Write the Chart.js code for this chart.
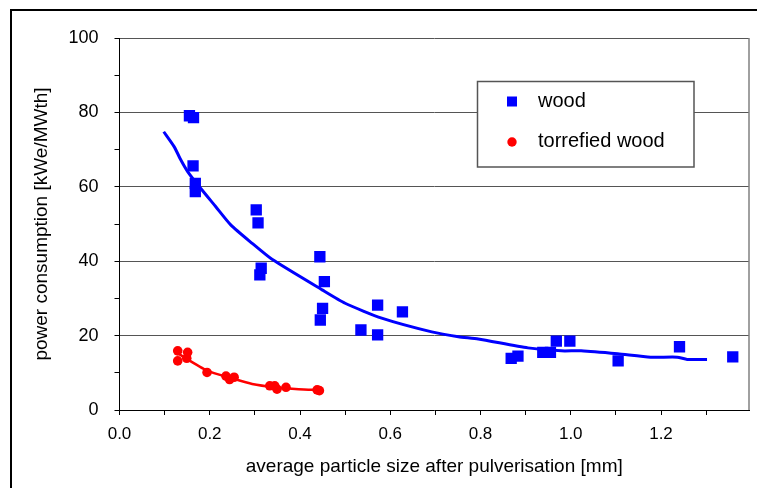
<!DOCTYPE html>
<html>
<head>
<meta charset="utf-8">
<script src="https://cdn.jsdelivr.net/npm/chart.js@4.4.0/dist/chart.umd.min.js"></script>
<style>
  body { margin: 0; background: #fff; }
  #wrap { width: 757px; height: 488px; }
</style>
</head>
<body>
<div id="wrap"><canvas id="chart" width="757" height="488"></canvas></div>
<script>
// measured points - wood
const woodX = [0.155, 0.164, 0.163, 0.168, 0.168, 0.303, 0.307, 0.444, 0.314, 0.311, 0.454, 0.450, 0.445,
               0.572, 0.535, 0.572, 0.627, 0.868, 0.883, 0.938, 0.955, 0.968, 0.998, 1.105, 1.241, 1.359];
const woodY = [79.1, 78.6, 65.6, 60.9, 58.7, 53.8, 50.3, 41.2, 38.1, 36.3, 34.5, 27.3, 24.2,
               28.2, 21.5, 20.2, 26.4, 13.9, 14.5, 15.5, 15.5, 18.5, 18.5, 13.2, 17.0, 14.3];

// measured points - torrefied wood
const torrX = [0.129, 0.151, 0.129, 0.149, 0.194, 0.236, 0.244, 0.254, 0.333, 0.344, 0.349, 0.369, 0.438, 0.443];
const torrY = [15.9, 15.5, 13.2, 13.9, 10.1, 9.1, 8.2, 8.8, 6.5, 6.5, 5.6, 6.1, 5.4, 5.2];

// fitted curves
const woodFitX = [0.098, 0.121, 0.136, 0.151, 0.177, 0.213, 0.247, 0.294, 0.338, 0.449, 0.500, 0.581,
                  0.692, 0.751, 0.795, 0.905, 0.979, 1.023, 1.104, 1.177, 1.236, 1.258, 1.302];
const woodFitY = [74.8, 70.8, 67.2, 64.1, 60.0, 54.7, 49.7, 44.8, 40.5, 32.3, 28.7, 24.7,
                  21.0, 19.7, 19.1, 16.7, 15.9, 15.9, 15.1, 14.2, 14.2, 13.6, 13.6];
const torrFitX = [0.132, 0.194, 0.250, 0.294, 0.346, 0.397, 0.442];
const torrFitY = [15.0, 10.6, 8.5, 7.0, 6.1, 5.6, 5.4];

const legendItems = ['wood', 'torrefied wood'];

const FONT = "'Liberation Sans', Arial, sans-serif";

function pts(xs, ys) {
  return xs.map((x, i) => ({ x: x, y: ys[i] }));
}

// frame + legend drawn on top
const framePlugin = {
  id: 'frame',
  afterDraw(chart) {
    const ctx = chart.ctx;
    const a = chart.chartArea;
    ctx.save();
    // outer border
    ctx.strokeStyle = '#000';
    ctx.lineWidth = 2;
    ctx.beginPath();
    ctx.moveTo(11, 490);
    ctx.lineTo(11, 10);
    ctx.lineTo(760, 10);
    ctx.stroke();
    // plot right border
    ctx.strokeStyle = '#808080';
    ctx.lineWidth = 1.5;
    ctx.beginPath();
    ctx.moveTo(a.right, a.top);
    ctx.lineTo(a.right, a.bottom);
    ctx.stroke();
    // legend box
    ctx.fillStyle = '#fff';
    ctx.fillRect(477.5, 81.5, 216.5, 85.5);
    ctx.strokeStyle = '#555';
    ctx.lineWidth = 1.5;
    ctx.strokeRect(477.5, 81.5, 216.5, 85.5);
    ctx.fillStyle = '#0000ff';
    ctx.fillRect(507, 96.5, 10, 10);
    ctx.fillStyle = '#ff0000';
    ctx.beginPath();
    ctx.arc(512, 142, 4.7, 0, Math.PI * 2);
    ctx.fill();
    ctx.fillStyle = '#000';
    ctx.font = '20px ' + FONT;
    ctx.textBaseline = 'middle';
    ctx.fillText(legendItems[0], 538, 101);
    ctx.fillText(legendItems[1], 538, 141);
    ctx.restore();
  }
};

new Chart(document.getElementById('chart'), {
  type: 'scatter',
  data: {
    datasets: [
      {
        label: legendItems[0],
        data: pts(woodX, woodY),
        pointStyle: 'rect',
        pointRadius: 8,
        backgroundColor: '#0000ff',
        borderWidth: 0,
        order: 0
      },
      {
        label: legendItems[1],
        data: pts(torrX, torrY),
        pointStyle: 'circle',
        pointRadius: 4.8,
        backgroundColor: '#ff0000',
        borderWidth: 0,
        order: 0
      },
      {
        label: 'wood fit',
        data: pts(woodFitX, woodFitY),
        showLine: true,
        pointRadius: 0,
        borderColor: '#0000ff',
        borderWidth: 3,
        tension: 0.2,
        order: 1
      },
      {
        label: 'torrefied fit',
        data: pts(torrFitX, torrFitY),
        showLine: true,
        pointRadius: 0,
        borderColor: '#ff0000',
        borderWidth: 2.5,
        tension: 0.2,
        order: 1
      }
    ]
  },
  options: {
    responsive: false,
    animation: false,
    layout: { padding: { top: 38, right: 5, left: 0, bottom: 0 } },
    plugins: {
      legend: { display: false },
      tooltip: { enabled: false }
    },
    scales: {
      x: {
        type: 'linear',
        min: 0,
        max: 1.395,
        afterFit: s => { s.height = 78; },
        border: { color: '#000', width: 1 },
        grid: { drawOnChartArea: false, tickLength: 5, tickColor: '#000' },
        ticks: {
          stepSize: 0.1,
          includeBounds: false,
          autoSkip: false,
          maxRotation: 0,
          padding: 9,
          color: '#000',
          font: { family: FONT, size: 17 },
          callback: v => Math.round(v * 10) % 2 === 0 ? v.toFixed(1) : ''
        },
        title: {
          display: true,
          text: 'average particle size after pulverisation [mm]',
          color: '#000',
          font: { family: FONT, size: 19 },
          padding: { top: 0, bottom: 10 }
        }
      },
      y: {
        min: 0,
        max: 100,
        afterFit: s => { s.width = 119.5; },
        border: { color: '#000', width: 1 },
        grid: {
          color: c => (c.tick && c.tick.value % 20 === 0 && c.tick.value > 0) ? '#555' : 'rgba(0,0,0,0)',
          tickColor: '#000',
          tickLength: 5
        },
        ticks: {
          stepSize: 10,
          padding: 16,
          color: '#000',
          font: { family: FONT, size: 18 },
          callback: v => v % 20 === 0 ? v : ''
        },
        title: {
          display: true,
          text: 'power consumption [kWe/MWth]',
          color: '#000',
          font: { family: FONT, size: 19 },
          padding: { top: 30, bottom: 0 }
        }
      }
    }
  },
  plugins: [framePlugin]
});
</script>
</body>
</html>
